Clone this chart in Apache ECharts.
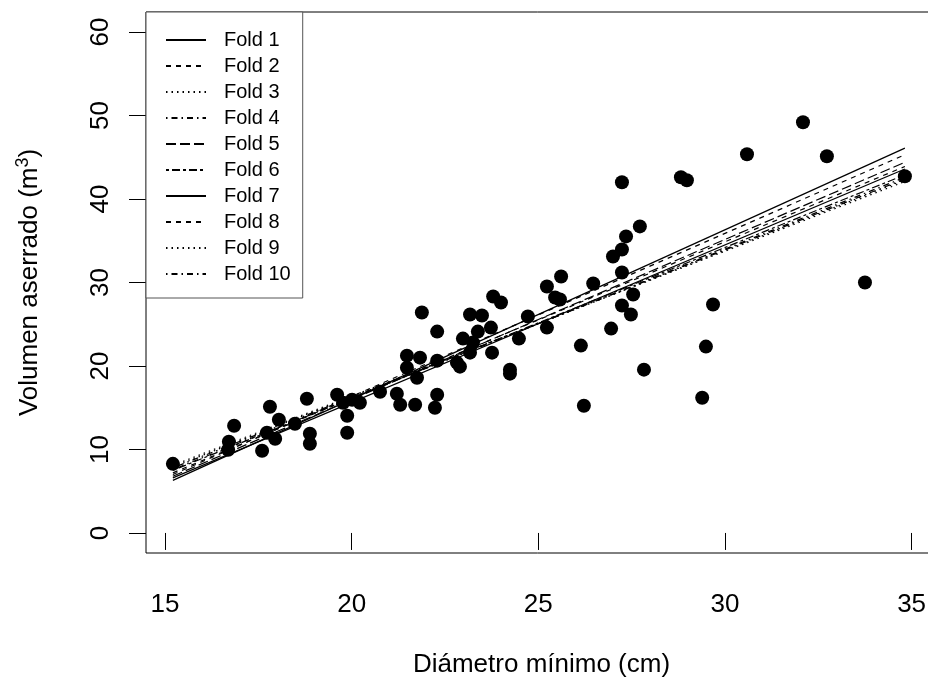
<!DOCTYPE html>
<html>
<head>
<meta charset="utf-8">
<script src="https://cdn.jsdelivr.net/npm/echarts@6/dist/echarts.min.js"></script>
<style>
  html, body { margin: 0; padding: 0; background: #fff; }
  #chart { width: 928px; height: 682px; }
</style>
</head>
<body>
<div id="chart"></div>
<script>
// datos: diámetro mínimo (cm) y volumen aserrado (m3)
const diametro = [15.21, 16.71, 16.69, 16.85, 17.60, 17.81, 18.05, 17.73, 17.95, 18.48,
    18.80, 18.88, 18.88, 19.61, 19.77, 20.01, 19.88, 19.88, 20.22, 20.76,
    21.21, 21.30, 21.70, 21.48, 21.48, 21.75, 21.83, 21.88, 22.29, 22.29,
    22.29, 22.23, 22.82, 22.90, 22.98, 23.25, 23.17, 23.17, 23.49, 23.38,
    23.76, 23.73, 23.79, 24.00, 24.24, 24.24, 24.48, 24.72, 25.23, 25.23,
    25.45, 25.58, 25.61, 26.14, 26.22, 26.47, 26.95, 27.00, 27.24, 27.24,
    27.24, 27.24, 27.35, 27.48, 27.54, 27.72, 27.83, 28.82, 28.98, 29.39,
    29.49, 29.68, 30.59, 32.09, 32.73, 33.75, 34.82];
const volumen = [8.28, 10.92, 9.96, 12.84, 9.84, 15.12, 13.56, 12.00, 11.28, 13.08,
    16.08, 11.88, 10.68, 16.56, 15.60, 15.96, 14.04, 12.00, 15.60, 16.92,
    16.68, 15.36, 15.36, 21.24, 19.80, 18.60, 21.00, 26.40, 24.12, 20.64,
    16.56, 15.00, 20.40, 19.92, 23.28, 22.80, 21.60, 26.16, 26.04, 24.12,
    21.60, 24.60, 28.32, 27.60, 19.56, 19.08, 23.28, 25.92, 29.52, 24.60,
    28.20, 27.96, 30.72, 22.44, 15.24, 29.88, 24.48, 33.12, 33.96, 42.00,
    31.20, 27.24, 35.52, 26.16, 28.56, 36.72, 19.56, 42.60, 42.24, 16.20,
    22.32, 27.36, 45.36, 49.20, 45.12, 30.00, 42.72];

// rectas de cada fold: valor en los extremos del rango de x
const folds = ['Fold 1', 'Fold 2', 'Fold 3', 'Fold 4', 'Fold 5',
    'Fold 6', 'Fold 7', 'Fold 8', 'Fold 9', 'Fold 10'];
const xExtremos = [15.21, 34.82];
const yInicio = [6.3, 7.0, 7.9, 7.6, 6.8, 7.5, 6.6, 7.2, 8.1, 7.8];
const yFin = [46.1, 45.3, 42.3, 42.6, 44.4, 42.9, 43.6, 43.9, 42.1, 42.4];

const xTicks = [15, 20, 25, 30, 35];
const yTicks = [0, 10, 20, 30, 40, 50, 60];

// tipos de línea de R (lty 1..6)
const ltys = ['solid', [5, 5], [1.5, 4], [1.5, 4, 6, 4], [10, 4], [3, 3, 8, 3]];

const fuente = 'Liberation Sans, Arial, sans-serif';

const chart = echarts.init(document.getElementById('chart'));

const lineas = folds.map((nombre, i) => ({
    name: nombre,
    type: 'line',
    symbol: 'none',
    z: 3,
    itemStyle: { color: '#000', opacity: 0 },
    lineStyle: { color: '#000', width: 1.2, type: ltys[i % 6] },
    data: [[xExtremos[0], yInicio[i]], [xExtremos[1], yFin[i]]]
}));

const option = {
    animation: false,
    backgroundColor: '#fff',
    grid: {
        left: 146, top: 12, width: 791, height: 541,
        outerBoundsMode: 'none',
        show: true, borderColor: '#000', borderWidth: 1
    },
    legend: {
        orient: 'vertical',
        left: 146, top: 12,
        padding: [18, 12, 14, 19],
        itemWidth: 40, itemHeight: 14, itemGap: 6,
        backgroundColor: '#fff',
        borderColor: '#555', borderWidth: 1,
        itemStyle: { opacity: 0 },
        textStyle: { fontFamily: fuente, fontSize: 20, color: '#000', padding: [0, 0, 0, 13], lineHeight: 20 },
        data: folds
    },
    xAxis: {
        type: 'value', min: 14.49, max: 35.68,
        name: 'Diámetro mínimo (cm)', nameLocation: 'middle', nameGap: 99,
        nameTextStyle: { fontFamily: fuente, fontSize: 26, color: '#000' },
        axisLine: { show: false },
        axisTick: { show: true, inside: false, length: 17, customValues: xTicks, lineStyle: { color: '#000' } },
        axisLabel: { customValues: xTicks, margin: 39, fontFamily: fuente, fontSize: 26, color: '#000' },
        splitLine: { show: false }
    },
    yAxis: {
        type: 'value', min: -2.4, max: 62.4,
        name: '{a|Volumen aserrado (m}{s|3}{a|)}', nameLocation: 'middle', nameGap: 100, nameRotate: 90,
        nameTextStyle: {
            rich: {
                a: { fontFamily: fuente, fontSize: 26, color: '#000' },
                s: { fontFamily: fuente, fontSize: 18, color: '#000', verticalAlign: 'top', padding: [0, 0, 14, 0] }
            }
        },
        axisLine: { show: false },
        axisTick: { show: true, inside: false, length: 17, customValues: yTicks, lineStyle: { color: '#000' } },
        axisLabel: { customValues: yTicks, rotate: 90, margin: 32, fontFamily: fuente, fontSize: 26, color: '#000' },
        splitLine: { show: false }
    },
    series: [{
        type: 'scatter',
        symbol: 'circle',
        symbolSize: 14,
        z: 4,
        itemStyle: { color: '#000', opacity: 1 },
        data: diametro.map((d, i) => [d, volumen[i]])
    }].concat(lineas)
};

chart.setOption(option);
</script>
</body>
</html>
